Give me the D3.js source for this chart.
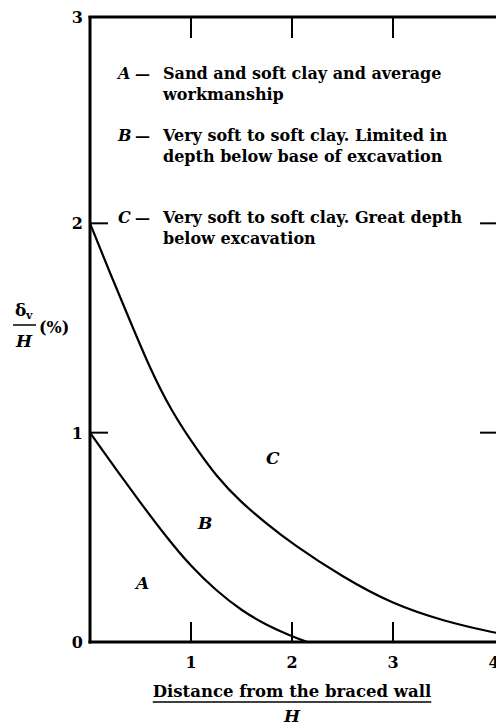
<!DOCTYPE html>
<html><head><meta charset="utf-8">
<script src="https://cdn.jsdelivr.net/npm/d3@7"></script>
<style>
html,body{margin:0;padding:0;background:#fff;}
svg{display:block;}
text{font-family:"DejaVu Serif",serif;fill:#000;}
</style></head>
<body><svg id="chart" width="496" height="727"></svg>
<script>
// ---- data ----
const xTicks = [1, 2, 3, 4];
const yTicks = [0, 1, 2, 3];
const curveAx = [0, 0.25, 0.5, 0.75, 1.0, 1.25, 1.5, 1.75, 2.0, 2.15];
const curveAy = [1.0, 0.83, 0.665, 0.505, 0.36, 0.245, 0.15, 0.08, 0.027, 0.0];
const curveCx = [0, 0.2, 0.4, 0.6, 0.8, 1.0, 1.25, 1.5, 1.75, 2.0, 2.5, 3.0, 3.5, 4.0, 4.05];
const curveCy = [2.0, 1.76, 1.53, 1.30, 1.11, 0.96, 0.79, 0.665, 0.565, 0.47, 0.31, 0.18, 0.10, 0.045, 0.042];
const regionLabels = ["A", "B", "C"];
const regionX = [0.52, 1.14, 1.81];
const regionY = [0.28, 0.57, 0.88];
const legendKeys = ["A", "B", "C"];
const legendText = [
  ["Sand and soft clay and average", "workmanship"],
  ["Very soft to soft clay. Limited in", "depth below base of excavation"],
  ["Very soft to soft clay. Great depth", "below excavation"]
];
const xTitle = "Distance from the braced wall";
const xTitleDen = "H";

// ---- layout ----
const svg = d3.select("#chart");
const mLeft = 90, mRight = 494, mTop = 14, mBottom = 642;
const x = d3.scaleLinear().domain([0, 4]).range([mLeft, mRight]);
const y = d3.scaleLinear().domain([0, 3]).range([mBottom, mTop]);
const frameRight = x(4.04);
const frameTop = 17;

svg.append("defs").append("clipPath").attr("id", "clip")
  .append("rect").attr("x", mLeft).attr("y", frameTop).attr("width", frameRight - mLeft).attr("height", mBottom - frameTop);

// frame
const frame = svg.append("g").attr("stroke", "#000").attr("fill", "none");
frame.append("line").attr("x1", mLeft).attr("x2", mLeft).attr("y1", frameTop - 1).attr("y2", mBottom + 1.5).attr("stroke-width", 3);
frame.append("line").attr("x1", mLeft - 1.5).attr("x2", frameRight).attr("y1", frameTop).attr("y2", frameTop).attr("stroke-width", 3);
frame.append("line").attr("x1", mLeft - 1.5).attr("x2", frameRight).attr("y1", mBottom).attr("y2", mBottom).attr("stroke-width", 3);
frame.append("line").attr("x1", frameRight).attr("x2", frameRight).attr("y1", frameTop).attr("y2", mBottom).attr("stroke-width", 3);

// ticks (inward)
const inner = xTicks.filter(d => d < 4);
frame.selectAll(".tb").data(inner).join("line")
  .attr("x1", d => x(d)).attr("x2", d => x(d)).attr("y1", mBottom).attr("y2", mBottom - 20).attr("stroke-width", 2);
frame.selectAll(".tt").data(inner).join("line")
  .attr("x1", d => x(d)).attr("x2", d => x(d)).attr("y1", frameTop).attr("y2", frameTop + 21).attr("stroke-width", 2);
const yin = yTicks.filter(d => d > 0 && d < 3);
frame.selectAll(".tl").data(yin).join("line")
  .attr("x1", mLeft).attr("x2", mLeft + 18).attr("y1", d => y(d)).attr("y2", d => y(d)).attr("stroke-width", 2);
frame.selectAll(".tr").data(yin).join("line")
  .attr("x1", frameRight).attr("x2", frameRight - 18).attr("y1", d => y(d)).attr("y2", d => y(d)).attr("stroke-width", 2);

// tick labels
svg.selectAll(".xl").data(xTicks).join("text")
  .attr("x", d => x(d)).attr("y", mBottom + 26).attr("text-anchor", "middle")
  .attr("font-size", 16).attr("font-weight", "bold").text(d => d);
svg.selectAll(".yl").data(yTicks).join("text")
  .attr("x", mLeft - 7).attr("y", d => (d === 3 ? frameTop : y(d)) + 6).attr("text-anchor", "end")
  .attr("font-size", 16).attr("font-weight", "bold").text(d => d);

// curves
const line = d3.line().x(d => x(d[0])).y(d => y(d[1])).curve(d3.curveBasis);
const g = svg.append("g").attr("clip-path", "url(#clip)");
g.append("path").datum(d3.zip(curveAx, curveAy)).attr("d", line)
  .attr("fill", "none").attr("stroke", "#000").attr("stroke-width", 2.2);
g.append("path").datum(d3.zip(curveCx, curveCy)).attr("d", line)
  .attr("fill", "none").attr("stroke", "#000").attr("stroke-width", 2.2);

// region labels
svg.selectAll(".rl").data(regionLabels).join("text")
  .attr("x", (d, i) => x(regionX[i])).attr("y", (d, i) => y(regionY[i]) + 6)
  .attr("text-anchor", "middle").attr("font-size", 17).attr("font-style", "italic").attr("font-weight", "bold")
  .text(d => d);

// legend
const legBase = [79, 141, 223];
const lineGap = 21;
legendKeys.forEach((k, i) => {
  const gg = svg.append("g");
  gg.append("text").attr("x", 118).attr("y", legBase[i]).attr("font-size", 16)
    .attr("font-style", "italic").attr("font-weight", "bold").text(k);
  gg.append("text").attr("x", 135).attr("y", legBase[i]).attr("font-size", 15).attr("font-weight", "bold").text("—");
  legendText[i].forEach((t, j) => {
    gg.append("text").attr("x", 163).attr("y", legBase[i] + j * lineGap)
      .attr("font-size", 16).attr("font-weight", "bold").text(t);
  });
});

// x title
const xt = svg.append("text").attr("x", x(2)).attr("y", 697).attr("text-anchor", "middle")
  .attr("font-size", 16.5).attr("font-weight", "bold").text(xTitle);
const bb = xt.node().getBBox();
svg.append("line").attr("x1", bb.x).attr("x2", bb.x + bb.width).attr("y1", 702).attr("y2", 702)
  .attr("stroke", "#000").attr("stroke-width", 1.5);
svg.append("text").attr("x", x(2)).attr("y", 722).attr("text-anchor", "middle")
  .attr("font-size", 17).attr("font-style", "italic").attr("font-weight", "bold").text(xTitleDen);

// y title: δv / H (%)
const yt = svg.append("g");
yt.append("text").attr("x", 15).attr("y", 316).attr("font-size", 17).attr("font-weight", "bold").text("δ");
yt.append("text").attr("x", 26).attr("y", 319).attr("font-size", 11).attr("font-weight", "bold").text("v");
yt.append("line").attr("x1", 13).attr("x2", 36).attr("y1", 325).attr("y2", 325).attr("stroke", "#000").attr("stroke-width", 1.5);
yt.append("text").attr("x", 24).attr("y", 347).attr("text-anchor", "middle").attr("font-size", 17)
  .attr("font-style", "italic").attr("font-weight", "bold").text("H");
yt.append("text").attr("x", 39).attr("y", 333).attr("font-size", 16).attr("font-weight", "bold").text("(%)");
</script>
</body></html>
